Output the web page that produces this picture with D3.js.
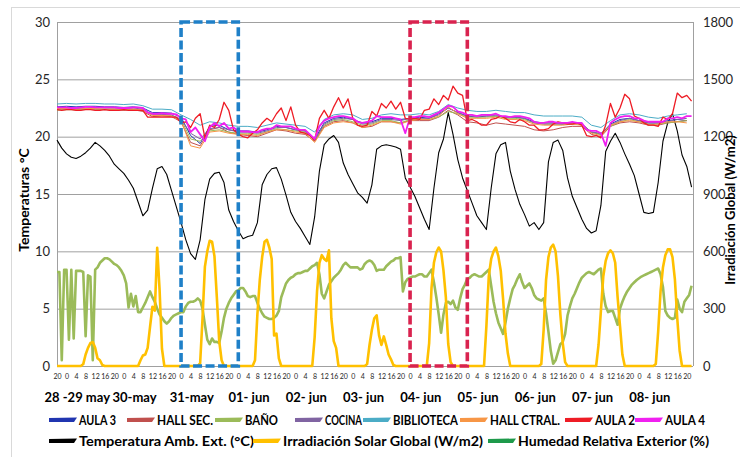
<!DOCTYPE html>
<html>
<head>
<meta charset="utf-8">
<script src="https://cdn.jsdelivr.net/npm/d3@7"></script>
<style>
  body { margin: 0; background: #fff; }
  svg { display: block; font-family: Lato, "Liberation Sans", sans-serif; }
</style>
</head>
<body>
<script>
// ----- DATA -----
// time axis: hours counted from 28-may 20:00
const hours1 = d3.range(0, 267, 1);
const hours2 = d3.range(0, 267, 2);
const hours4 = d3.range(0, 265, 4);

const leftTicks = [0, 5, 10, 15, 20, 25, 30];
const rightTicks = [0, 300, 600, 900, 1200, 1500, 1800];

const dayLabels = ["28 -29 may", "30-may", "31-may", "01- jun", "02- jun", "03- jun",
  "04- jun", "05- jun", "06- jun", "07- jun", "08- jun"];
const dayStarts = [4, 28, 52, 76, 100, 124, 148, 172, 196, 220, 244];

// highlighted days (dashed boxes)
const boxDays = [52, 148];
const boxColors = ["#1f80c8", "#d9234f"];

// interior temperatures, every 4 h (°C)
const aula3 = [
  22.6, 22.65, 22.6, 22.65, 22.65, 22.6, 22.6, 22.55, 22.6, 22.5,
  22.1, 22.1, 22.05, 21.7, 20.1, 19.4, 20.9, 21.0, 20.6, 20.5,
  20.5, 20.4, 20.6, 20.9, 20.8, 20.6, 20.5, 19.8, 21.2, 21.6,
  21.7, 21.5, 21.2, 21.3, 21.6, 21.6, 21.5, 21.6, 21.7, 21.6,
  22.0, 22.5, 22.1, 21.8, 21.7, 21.8, 21.8, 21.7, 21.7, 21.6,
  21.3, 21.2, 21.2, 21.1, 21.2, 21.1, 20.4, 20.2, 21.1, 21.5,
  21.6, 21.4, 21.2, 21.2, 21.4, 21.5, 21.4];
const hallSec = [
  22.4, 22.4, 22.35, 22.4, 22.4, 22.35, 22.35, 22.3, 22.35, 22.2,
  21.75, 21.8, 21.75, 21.3, 19.5, 19.2, 20.6, 20.8, 20.4, 20.2,
  20.1, 20.0, 20.3, 20.6, 20.5, 20.3, 20.2, 19.6, 20.9, 21.3,
  21.4, 21.2, 20.8, 20.9, 21.3, 21.3, 21.2, 21.4, 21.4, 21.4,
  21.7, 22.3, 21.9, 21.3, 21.2, 21.0, 21.2, 21.1, 21.0, 20.9,
  20.6, 20.5, 20.6, 20.8, 20.9, 20.9, 20.2, 20.0, 20.9, 21.2,
  21.3, 21.2, 21.0, 21.0, 21.2, 21.3, 21.4];
const bano = [
  22.3, 22.35, 22.35, 22.4, 22.4, 22.4, 22.4, 22.35, 22.4, 22.3,
  21.9, 21.9, 21.85, 21.5, 19.8, 19.6, 20.5, 20.6, 20.4, 20.3,
  20.3, 20.2, 20.4, 20.7, 20.6, 20.5, 20.4, 19.7, 21.0, 21.4,
  21.5, 21.3, 21.0, 21.1, 21.4, 21.4, 21.2, 21.5, 21.5, 21.5,
  21.7, 22.2, 22.0, 21.7, 21.7, 21.7, 21.8, 21.6, 21.6, 21.5,
  21.2, 21.1, 21.1, 21.1, 21.1, 21.1, 20.4, 20.2, 20.9, 21.3,
  21.5, 21.3, 21.1, 21.1, 21.2, 21.3, 21.4];
const cocina = [
  22.5, 22.5, 22.45, 22.5, 22.55, 22.5, 22.5, 22.45, 22.5, 22.4,
  21.95, 21.95, 21.9, 21.5, 20.3, 19.8, 20.7, 20.8, 20.6, 20.4,
  20.4, 20.3, 20.5, 20.8, 20.8, 20.6, 20.5, 19.7, 21.1, 21.5,
  21.6, 21.5, 21.1, 21.2, 21.5, 21.5, 21.4, 21.6, 21.6, 21.6,
  21.9, 22.5, 22.1, 21.8, 21.8, 21.8, 21.9, 21.7, 21.7, 21.6,
  21.2, 21.1, 21.1, 21.1, 21.2, 21.1, 20.4, 20.3, 21.0, 21.4,
  21.6, 21.4, 21.2, 21.2, 21.3, 21.5, 21.6];
const biblioteca = [
  22.85, 22.9, 22.85, 22.9, 22.9, 22.85, 22.85, 22.8, 22.85, 22.7,
  22.4, 22.4, 22.35, 21.9, 21.5, 21.0, 21.3, 21.2, 21.0, 20.9,
  20.9, 20.8, 21.0, 21.2, 21.1, 21.0, 20.9, 20.4, 21.5, 21.9,
  22.0, 21.9, 21.5, 21.6, 21.9, 22.0, 21.9, 21.9, 22.0, 21.9,
  22.2, 22.8, 22.5, 22.3, 22.2, 22.2, 22.3, 22.2, 22.1, 22.1,
  21.9, 21.8, 21.8, 21.8, 21.8, 21.7, 21.0, 20.8, 21.4, 21.9,
  22.0, 21.9, 21.7, 21.6, 21.8, 21.9, 22.0];
const hallCtral = [
  22.45, 22.45, 22.4, 22.45, 22.45, 22.4, 22.4, 22.4, 22.4, 22.3,
  21.85, 21.85, 21.8, 21.4, 19.2, 19.0, 20.4, 20.5, 20.3, 20.2,
  20.2, 20.1, 20.4, 20.6, 20.6, 20.4, 20.3, 19.5, 20.8, 21.2,
  21.3, 21.2, 20.8, 21.0, 21.3, 21.3, 21.1, 21.4, 21.5, 21.5,
  21.8, 22.6, 22.0, 21.6, 21.6, 21.6, 21.7, 21.5, 21.5, 21.4,
  21.1, 21.0, 21.0, 21.0, 21.1, 21.0, 20.3, 20.1, 21.0, 21.3,
  21.4, 21.3, 21.0, 21.1, 21.3, 21.3, 21.2];

// AULA 2 and AULA 4, every 2 h (°C)
const aula2 = [
  22.35, 22.3, 22.35, 22.35, 22.3, 22.3, 22.35, 22.35, 22.3, 22.3, 22.35, 22.3,
  22.3, 22.3, 22.35, 22.3, 22.3, 22.3, 22.3, 21.7, 21.7, 21.7, 21.7, 21.7,
  21.7, 21.7, 21.2, 21.3, 20.8, 21.6, 22.0, 19.9, 21.0, 20.8, 21.5, 23.0,
  22.3, 20.6, 20.2, 20.0, 19.9, 20.3, 20.6, 21.2, 21.6, 21.3, 22.0, 22.5,
  21.4, 22.6, 21.0, 20.4, 20.3, 20.1, 19.7, 21.6, 22.3, 21.6, 22.6, 23.4,
  22.5, 23.3, 21.6, 21.0, 20.9, 21.0, 22.2, 21.8, 22.9, 22.5, 23.1, 22.4,
  23.0, 21.6, 21.5, 21.6, 21.5, 22.3, 22.4, 23.3, 22.8, 23.6, 23.2, 24.4,
  23.8, 23.6, 21.4, 21.5, 21.3, 21.0, 21.0, 21.5, 21.6, 21.8, 21.6, 21.3,
  21.2, 21.5, 21.3, 21.0, 21.0, 20.6, 20.6, 20.7, 21.1, 21.3, 21.2, 21.1,
  21.1, 21.2, 21.0, 20.1, 20.0, 20.1, 19.9, 21.0, 22.9, 21.7, 22.5, 23.7,
  23.3, 21.8, 21.6, 21.2, 21.0, 21.0, 20.9, 21.7, 21.5, 22.0, 23.8, 23.4,
  23.6, 23.1];
const aula4 = [
  22.55, 22.55, 22.55, 22.5, 22.5, 22.55, 22.6, 22.6, 22.55, 22.55, 22.55, 22.55,
  22.55, 22.5, 22.5, 22.5, 22.55, 22.55, 22.5, 22.1, 22.0, 22.0, 22.05, 22.0,
  22.0, 21.95, 21.6, 21.5, 20.4, 20.8, 20.2, 19.6, 20.8, 21.2, 20.9, 21.2,
  20.7, 20.8, 20.5, 20.45, 20.45, 20.4, 20.4, 20.6, 20.7, 20.7, 21.0, 20.9,
  20.9, 20.9, 20.7, 20.6, 20.6, 20.2, 19.8, 20.9, 21.4, 21.6, 21.7, 21.8,
  21.8, 21.7, 21.6, 21.3, 21.2, 21.3, 21.4, 21.8, 21.7, 21.7, 21.7, 21.6,
  21.5, 20.3, 21.7, 21.7, 21.8, 21.8, 21.7, 21.9, 22.1, 22.4, 22.7, 22.6,
  22.2, 22.1, 21.9, 21.9, 21.8, 21.9, 21.9, 21.9, 22.0, 21.8, 21.8, 21.7,
  21.8, 21.8, 21.7, 21.6, 21.3, 21.2, 21.2, 21.3, 21.3, 21.2, 21.2, 21.2,
  21.3, 21.2, 21.2, 20.6, 20.5, 20.5, 20.3, 19.2, 21.2, 21.5, 21.7, 21.8,
  21.8, 21.6, 21.6, 21.4, 21.3, 21.3, 21.3, 21.3, 21.6, 21.6, 21.7, 21.6,
  21.8, 21.8];

// outdoor temperature, every 2 h (°C)
const tempExt = [
  19.7, 19.0, 18.5, 18.2, 18.1, 18.3, 18.6, 19.0, 19.5, 19.2, 18.8, 18.3,
  17.6, 17.2, 16.8, 16.2, 15.5, 14.3, 13.1, 13.6, 15.5, 17.2, 17.4, 16.7,
  15.3, 13.9, 12.5, 11.0, 9.8, 9.3, 11.0, 14.5, 16.3, 16.8, 16.9, 16.0,
  13.6, 12.6, 11.8, 11.1, 11.3, 11.4, 12.5, 15.8, 16.7, 17.2, 17.3, 16.3,
  14.9, 13.4, 12.6, 12.0, 11.3, 10.6, 13.0, 17.0, 19.3, 19.8, 20.1, 19.5,
  17.7, 16.7, 15.9, 15.1, 14.7, 14.2, 15.8, 18.9, 19.2, 19.3, 19.2, 19.1,
  18.9, 16.4, 15.6, 14.8, 13.8, 12.8, 11.9, 15.5, 18.6, 19.8, 22.1, 20.2,
  18.0, 16.4, 15.3, 14.2, 13.1, 12.5, 11.9, 15.5, 18.5, 19.3, 19.5, 17.0,
  15.4, 14.1, 13.2, 12.2, 12.5, 11.9, 12.5, 17.8, 19.5, 19.7, 18.8, 16.4,
  14.8, 13.8, 12.8, 12.0, 11.6, 11.8, 14.0, 18.7, 19.6, 20.3, 19.5, 18.5,
  17.6, 16.6, 15.0, 13.4, 13.3, 13.4, 16.0, 19.6, 21.2, 22.0, 20.5, 18.4,
  17.4, 15.6];

// global solar irradiation, hourly (W/m2)
const irradiacion = [
  0, 0, 0, 0, 0, 0, 0, 0, 0, 0, 0, 10, 60, 95, 120, 125, 95, 40, 30, 5, 0, 0, 0, 0,
  0, 0, 0, 0, 0, 0, 0, 0, 0, 0, 0, 30, 55, 60, 95, 205, 310, 290, 618, 400, 90, 0, 0, 0,
  0, 0, 0, 0, 0, 0, 0, 0, 0, 0, 0, 0, 15, 250, 520, 600, 655, 650, 575, 360, 130, 30, 0, 0,
  0, 0, 0, 0, 0, 0, 0, 0, 0, 0, 0, 30, 270, 450, 570, 650, 660, 620, 560, 160, 170, 40, 0, 0,
  0, 0, 0, 0, 0, 0, 0, 0, 0, 0, 0, 0, 150, 390, 540, 580, 560, 550, 605, 250, 130, 95, 0, 0,
  0, 0, 0, 0, 0, 0, 0, 0, 0, 0, 10, 110, 190, 250, 265, 160, 110, 155, 110, 60, 35, 5, 0, 0,
  0, 0, 0, 0, 0, 0, 0, 0, 0, 0, 0, 0, 120, 410, 540, 595, 620, 600, 500, 360, 115, 20, 0, 0,
  0, 0, 0, 0, 0, 0, 0, 0, 0, 0, 0, 0, 210, 470, 560, 600, 620, 575, 500, 350, 170, 65, 0, 0,
  0, 0, 0, 0, 0, 0, 0, 0, 0, 0, 0, 10, 190, 450, 570, 620, 635, 600, 470, 270, 120, 20, 0, 0,
  0, 0, 0, 0, 0, 0, 0, 0, 0, 0, 0, 110, 290, 470, 550, 590, 605, 590, 540, 360, 210, 60, 0, 0,
  0, 0, 0, 0, 0, 0, 0, 0, 0, 0, 0, 10, 180, 390, 515, 580, 610, 610, 570, 455, 250, 80, 0, 0,
  0, 0, 0];

// exterior relative humidity as drawn on the left scale, hourly
const humedad = [
  8.2, 8.2, 0.5, 8.4, 8.4, 2.3, 8.4, 2.4, 8.3, 8.3, 8.3, 8.2, 2.6, 7.9, 7.8, 0.5, 8.4, 8.6, 9.0, 9.2, 9.4, 9.4, 9.3, 9.1,
  8.9, 8.8, 8.6, 8.3, 7.9, 7.2, 5.1, 6.3, 5.2, 6.1, 4.7, 4.7, 5.1, 5.5, 6.0, 6.5, 6.0, 5.6, 5.0, 4.5, 4.2, 3.9, 3.7, 3.9,
  4.2, 4.4, 4.5, 4.6, 4.7, 4.7, 5.2, 5.5, 5.6, 5.6, 5.7, 5.9, 5.7, 5.0, 3.6, 2.3, 1.9, 2.4, 2.1, 2.1, 2.0, 3.0, 4.2, 5.0,
  5.5, 5.9, 6.2, 6.5, 6.6, 6.8, 6.8, 6.5, 6.1, 6.0, 6.1, 6.1, 5.5, 5.0, 4.6, 4.3, 4.2, 4.1, 4.1, 4.2, 4.4, 4.8, 6.0, 6.6,
  7.2, 7.5, 7.7, 7.8, 8.0, 8.1, 8.1, 8.2, 8.3, 8.3, 8.5, 8.7, 8.8, 9.0, 8.0, 6.3, 5.9, 6.5, 7.1, 7.4, 7.7, 7.9, 8.1, 8.4,
  8.8, 9.0, 8.8, 8.6, 8.6, 8.6, 8.6, 8.4, 8.5, 8.9, 9.1, 9.2, 9.1, 8.8, 8.3, 8.4, 8.4, 8.4, 8.7, 8.9, 9.1, 9.2, 9.4, 9.4,
  9.5, 6.5, 7.3, 7.6, 7.7, 7.8, 7.8, 7.9, 8.0, 8.0, 7.8, 7.8, 8.1, 8.4, 7.3, 6.0, 4.5, 2.9, 4.5, 5.5, 5.6, 5.4, 5.7, 5.1,
  4.9, 5.9, 6.7, 7.1, 7.6, 7.7, 7.9, 8.0, 7.9, 7.8, 7.8, 8.0, 8.2, 8.4, 7.0, 5.6, 4.6, 3.8, 3.3, 2.8, 3.8, 5.0, 5.9, 6.7,
  7.1, 7.6, 8.0, 7.3, 6.8, 7.0, 7.2, 6.8, 6.2, 5.9, 5.8, 5.7, 5.9, 4.6, 3.0, 1.3, 0.2, 0.5, 1.2, 1.9, 2.1, 2.8, 4.4, 5.2,
  5.9, 6.3, 6.8, 7.3, 7.7, 7.9, 8.1, 8.2, 8.1, 8.0, 8.2, 8.4, 8.5, 6.3, 5.2, 4.7, 4.8, 4.8, 4.2, 3.6, 5.0, 5.6, 6.1, 6.5,
  6.8, 7.1, 7.3, 7.5, 7.65, 7.8, 7.9, 8.0, 8.1, 8.2, 8.3, 8.4, 8.5, 8.0, 6.9, 4.8, 4.4, 4.2, 4.1, 4.2, 5.8, 5.0, 4.7, 5.6,
  5.9, 6.2, 7.0];

// ----- SERIES -----
const interiores = [
  { name: "AULA 3", color: "#2035b0", values: aula3, hours: hours4, width: 1 },
  { name: "HALL SEC.", color: "#c0504d", values: hallSec, hours: hours4, width: 1 },
  { name: "BAÑO", color: "#9bbb59", values: bano, hours: hours4, width: 1 },
  { name: "COCINA", color: "#8064a2", values: cocina, hours: hours4, width: 1 },
  { name: "BIBLIOTECA", color: "#4bacc6", values: biblioteca, hours: hours4, width: 1 },
  { name: "HALL CTRAL.", color: "#f79646", values: hallCtral, hours: hours4, width: 1 },
  { name: "AULA 2", color: "#ee1c25", values: aula2, hours: hours2, width: 1.3 },
  { name: "AULA 4", color: "#f020f0", values: aula4, hours: hours2, width: 1.8 }
];
const exteriores = [
  { name: "Temperatura Amb. Ext. (°C)", color: "#000000" },
  { name: "Irradiación Solar Global (W/m2)", color: "#ffc000" },
  { name: "Humedad Relativa Exterior (%)", color: "#1e9a4b" }
];

// legend layout: left edge of each entry and width of its text
const legendRow1X = [49, 127, 215, 295, 363, 460, 565, 635];
const legendRow1W = [37, 56, 33, 37, 65, 70, 40, 40];
const legendRow2X = [49, 253, 488];
const legendRow2W = [175, 200, 191];

// ----- CHART -----
const w = 740, h = 457;
const plotLeft = 57, plotRight = 693, plotTop = 22, plotBottom = 366;

const x = d3.scaleLinear().domain([0, 266.6]).range([plotLeft, plotRight]);
const yL = d3.scaleLinear().domain([0, 30]).range([plotBottom, plotTop]);
const yR = d3.scaleLinear().domain([0, 1800]).range([plotBottom, plotTop]);

const svg = d3.select("body").append("svg")
  .attr("width", w)
  .attr("height", h);

svg.append("rect").attr("width", w).attr("height", h).attr("fill", "#fff");

// chart frame
svg.append("rect")
  .attr("x", 11.5).attr("y", 7.5)
  .attr("width", w).attr("height", h)
  .attr("fill", "none")
  .attr("stroke", "#d9d9d9");

// gridlines
svg.append("g")
  .attr("transform", `translate(${plotLeft},0)`)
  .call(d3.axisLeft(yL).tickValues(leftTicks).tickSize(-(plotRight - plotLeft)).tickFormat(""))
  .call(g => g.select(".domain").remove())
  .call(g => g.selectAll("line").attr("stroke", "#a0a0a0"));

// vertical axis lines
svg.append("line")
  .attr("x1", plotLeft + 0.5).attr("x2", plotLeft + 0.5)
  .attr("y1", yL(30)).attr("y2", yL(0))
  .attr("stroke", "#a0a0a0");
svg.append("line")
  .attr("x1", plotRight + 0.5).attr("x2", plotRight + 0.5)
  .attr("y1", yL(30)).attr("y2", yL(0))
  .attr("stroke", "#a0a0a0");

// left axis labels
svg.append("g")
  .attr("transform", `translate(${plotLeft},0)`)
  .call(d3.axisLeft(yL).tickValues(leftTicks).tickSize(0).tickPadding(7))
  .call(g => g.select(".domain").remove())
  .call(g => g.selectAll("text")
    .attr("font-family", "Lato")
    .attr("font-size", 13)
    .attr("fill", "#262626"));

// right axis labels
svg.append("g")
  .attr("transform", `translate(${plotRight},0)`)
  .call(d3.axisRight(yR).tickValues(rightTicks).tickSize(0).tickPadding(10)
    .tickFormat(d3.format("d")))
  .call(g => g.select(".domain").remove())
  .call(g => g.selectAll("text")
    .attr("font-family", "Lato")
    .attr("font-size", 13)
    .attr("fill", "#262626"));

// hour tick labels
svg.append("g")
  .attr("transform", `translate(0,${plotBottom})`)
  .call(d3.axisBottom(x).tickValues(hours4).tickSize(0).tickPadding(8)
    .tickFormat(d => (d + 20) % 24))
  .call(g => g.select(".domain").remove())
  .call(g => g.selectAll("text")
    .attr("font-family", "Lato")
    .attr("font-size", 7)
    .attr("fill", "#262626"));

// day labels
svg.append("g")
  .selectAll("text")
  .data(dayLabels)
  .join("text")
  .attr("x", (d, i) => x(dayStarts[i] + 4.5))
  .attr("y", 402)
  .attr("text-anchor", "middle")
  .attr("font-size", 13)
  .attr("font-weight", "bold")
  .attr("fill", "#000")
  .text(d => d);

// axis titles
svg.append("text")
  .attr("transform", "translate(29,200) rotate(-90)")
  .attr("text-anchor", "middle")
  .attr("font-size", 14)
  .attr("font-weight", "bold")
  .text("Temperaturas °C");

svg.append("text")
  .attr("transform", "translate(735,210) rotate(-90)")
  .attr("text-anchor", "middle")
  .attr("font-size", 13)
  .attr("font-weight", "bold")
  .text("Irradiación Global (W/m2)");

// ----- LINES -----
const plot = svg.append("g");

plot.append("path")
  .datum(humedad)
  .attr("fill", "none")
  .attr("stroke", "#9bbb59")
  .attr("stroke-width", 2.6)
  .attr("stroke-linejoin", "round")
  .attr("d", d3.line().x((d, i) => x(hours1[i])).y(d => yL(d)));

plot.append("path")
  .datum(irradiacion)
  .attr("fill", "none")
  .attr("stroke", "#ffc000")
  .attr("stroke-width", 2.6)
  .attr("stroke-linejoin", "round")
  .attr("d", d3.line().x((d, i) => x(hours1[i])).y(d => yR(d)));

plot.append("path")
  .datum(tempExt)
  .attr("fill", "none")
  .attr("stroke", "#000")
  .attr("stroke-width", 1.1)
  .attr("stroke-linejoin", "round")
  .attr("d", d3.line().x((d, i) => x(hours2[i])).y(d => yL(d)));

interiores.forEach(s => {
  plot.append("path")
    .datum(s.values)
    .attr("fill", "none")
    .attr("stroke", s.color)
    .attr("stroke-width", s.width)
    .attr("stroke-linejoin", "round")
    .attr("d", d3.line()
      .defined((d, i) => s.hours[i] !== undefined)
      .x((d, i) => x(s.hours[i]))
      .y(d => yL(d)));
});

// dashed boxes
svg.append("g")
  .selectAll("rect")
  .data(boxDays)
  .join("rect")
  .attr("x", d => x(d))
  .attr("y", yL(30))
  .attr("width", d => x(d + 24) - x(d))
  .attr("height", yL(0) - yL(30))
  .attr("fill", "none")
  .attr("stroke", (d, i) => boxColors[i])
  .attr("stroke-width", 3.6)
  .attr("stroke-dasharray", "9,3.5");

// ----- LEGEND -----
function swatch(g, x0, yc, color) {
  g.append("path")
    .attr("d", `M${x0},${yc - 2} L${x0 + 28},${yc - 2.5} L${x0 + 25},${yc + 2} L${x0},${yc + 2} Z`)
    .attr("fill", color);
}

const legend = svg.append("g");
interiores.forEach((s, i) => {
  swatch(legend, legendRow1X[i], 420, s.color);
  legend.append("text")
    .attr("x", legendRow1X[i] + 30)
    .attr("y", 425)
    .attr("font-size", 13)
    .attr("font-weight", "bold")
    .attr("textLength", legendRow1W[i])
    .attr("lengthAdjust", "spacingAndGlyphs")
    .text(s.name);
});
exteriores.forEach((s, i) => {
  swatch(legend, legendRow2X[i], 441, s.color);
  legend.append("text")
    .attr("x", legendRow2X[i] + 30)
    .attr("y", 446)
    .attr("font-size", 14)
    .attr("font-weight", "bold")
    .attr("textLength", legendRow2W[i])
    .attr("lengthAdjust", "spacingAndGlyphs")
    .text(s.name);
});
</script>
</body>
</html>
